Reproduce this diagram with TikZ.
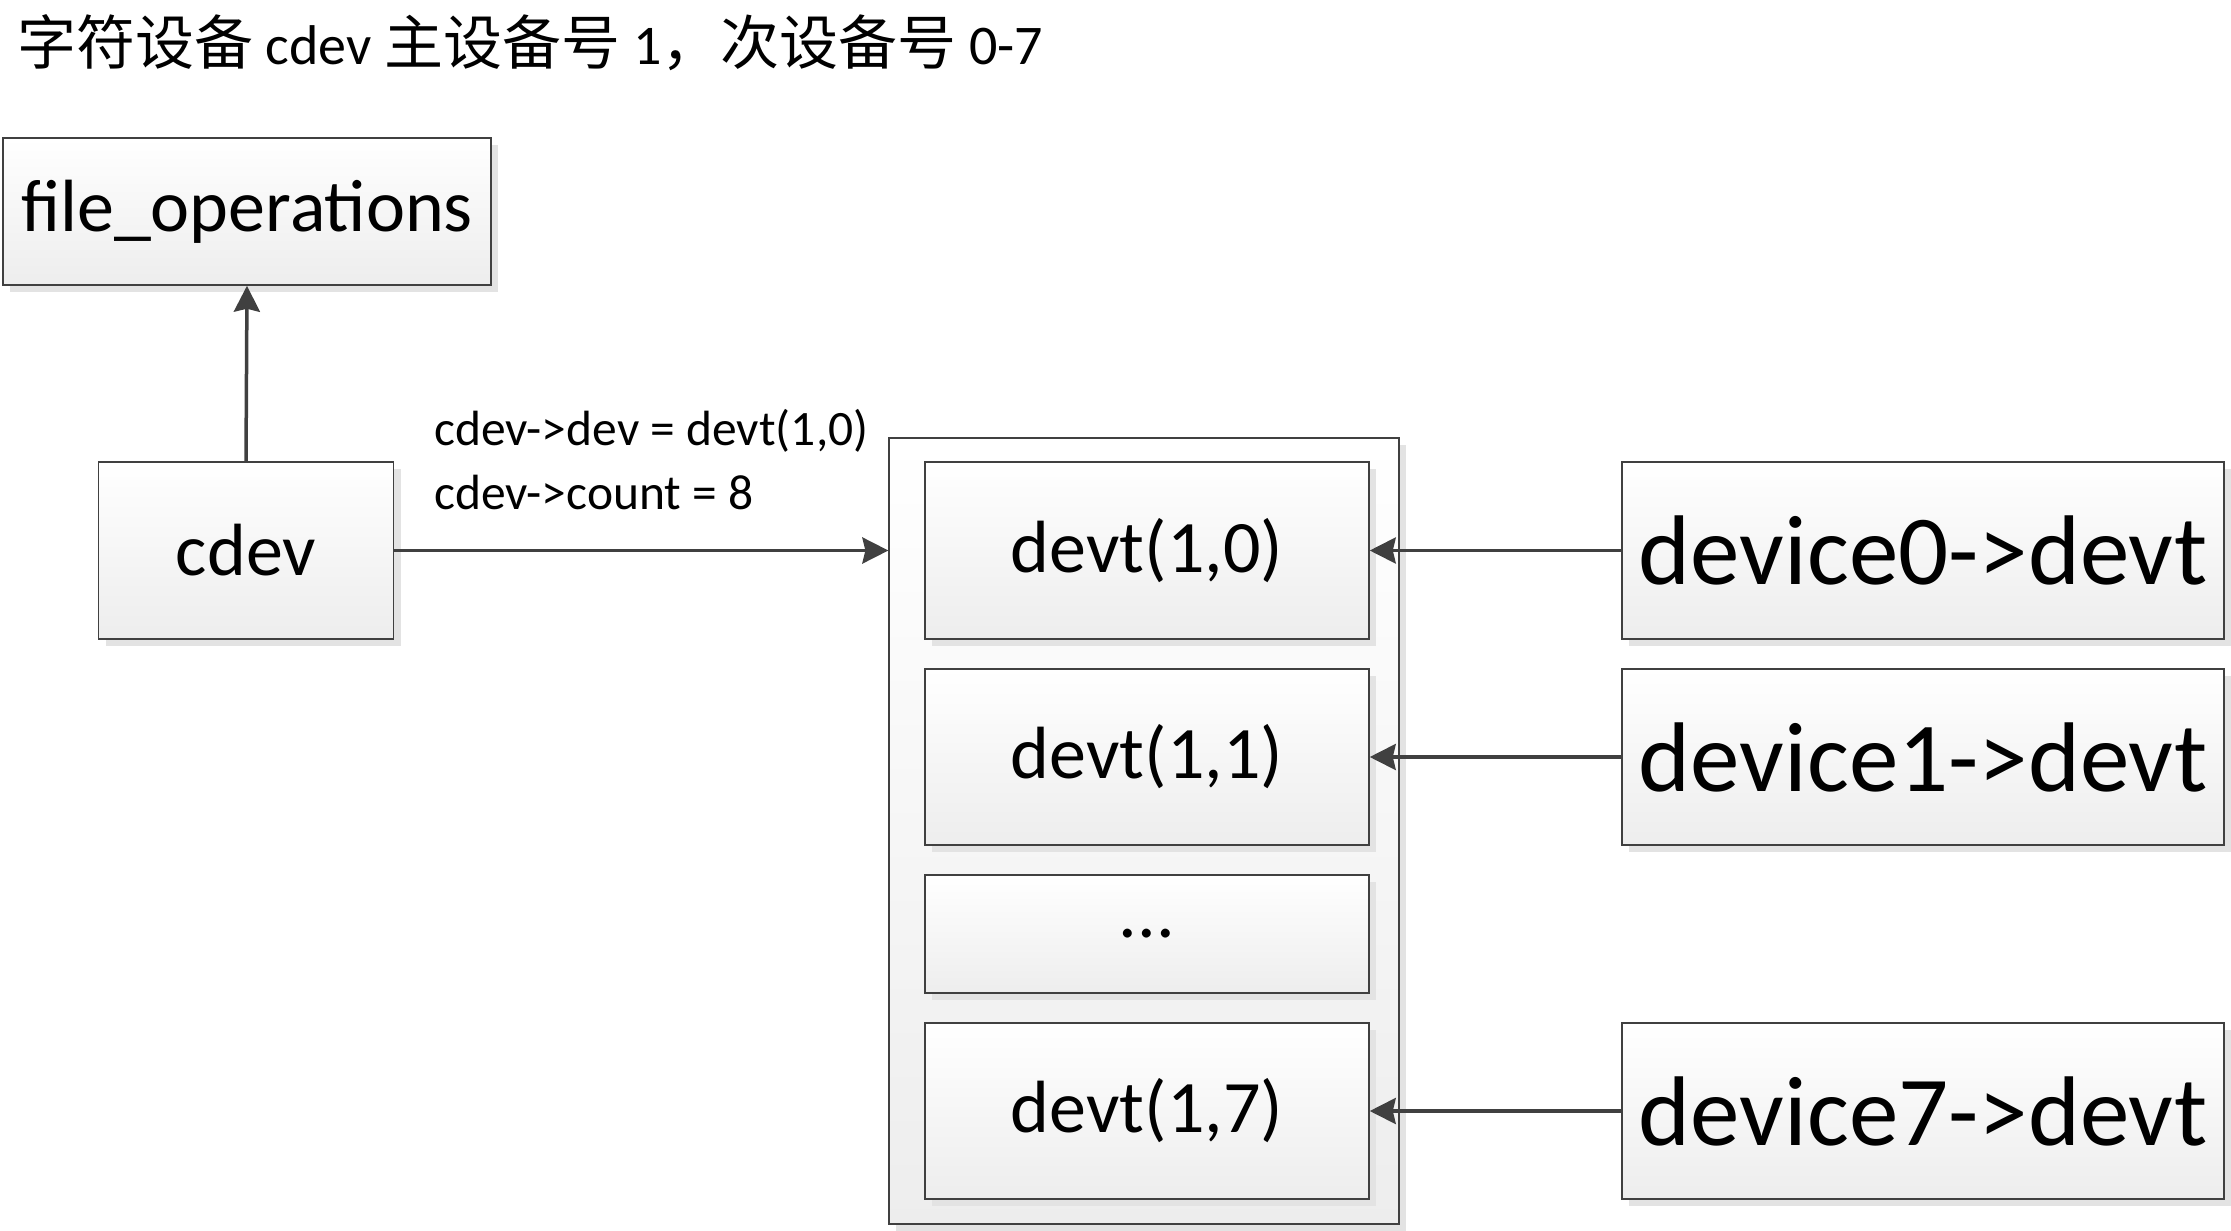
\documentclass[tikz,border=0pt]{standalone}
\usepackage{fontspec}
\setmainfont{Carlito}
\newfontfamily\cjk{Noto Sans CJK SC}
\usetikzlibrary{arrows.meta,shadows}
\definecolor{edge}{HTML}{404040}
\definecolor{shade}{HTML}{E3E3E3}
\newcommand{\zh}[1]{{\fontsize{59}{60}\selectfont\cjk #1}}
\tikzset{
  box/.style={draw=edge, line width=1.5pt, rectangle, inner sep=0pt,
    top color=white, bottom color=black!7,
    general shadow={fill=shade, shadow xshift=7pt, shadow yshift=-7pt}},
  arr/.style={draw=edge, line width=3.5pt, -{Stealth[length=26pt,width=26pt,inset=3pt]}},
  mid/.style={font=\fontsize{74}{80}\selectfont},
  big/.style={font=\fontsize{99}{105}\selectfont},
  lbl/.style={font=\fontsize{49.5}{55}\selectfont, anchor=west, inner sep=0pt}
}
\begin{document}
\begin{tikzpicture}[x=1pt,y=-1pt]
\useasboundingbox (0,0) rectangle (2231,1231);
\node[anchor=west, inner sep=0pt, font=\fontsize{56}{60}\selectfont] (title) at (17,43)
  {\zh{字符设备} cdev \zh{主设备号} 1\zh{，次设备号} 0-7};
\node[box, mid, minimum width=488pt, minimum height=147pt] (fo) at (247,211.5) {file\_operations};
\node[box, mid, minimum width=295pt, minimum height=177pt] (cdev) at (246,550.5) {cdev};
\node[box, line width=1.2pt, minimum width=510pt, minimum height=786pt] (cont) at (1144,831) {};
\node[box, mid, minimum width=444pt, minimum height=177pt] (d0) at (1147,550.5) {devt(1,0)};
\node[box, mid, minimum width=444pt, minimum height=176pt] (d1) at (1147,757) {devt(1,1)};
\node[box, mid, minimum width=444pt, minimum height=118pt] (dd) at (1147,934) {...};
\node[box, mid, minimum width=444pt, minimum height=176pt] (d7) at (1147,1111) {devt(1,7)};
\node[box, big, minimum width=602pt, minimum height=177pt] (v0) at (1923,550.5) {device0->devt};
\node[box, big, minimum width=602pt, minimum height=176pt] (v1) at (1923,757) {device1->devt};
\node[box, big, minimum width=602pt, minimum height=176pt] (v7) at (1923,1111) {device7->devt};
\node[lbl] (l1) at (434,431) {cdev->dev = devt(1,0)};
\node[lbl] (l2) at (434,492) {cdev->count = 8};
\draw[arr] (cdev.north) -- (fo.south);
\draw[arr] (cdev.east) -- (cdev.east -| cont.west);
\draw[arr] (v0.west) -- (d0.east);
\draw[arr] (v1.west) -- (d1.east);
\draw[arr] (v7.west) -- (d7.east);
\end{tikzpicture}
\end{document}
